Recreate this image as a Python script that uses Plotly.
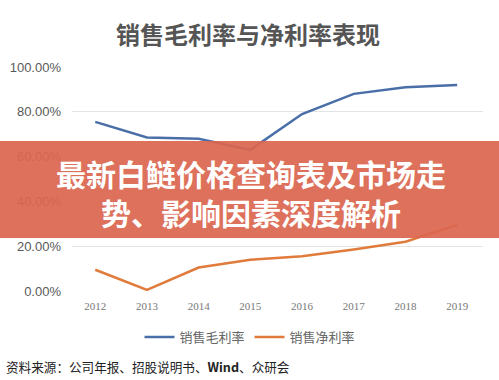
import plotly.graph_objects as go

years = ["2012", "2013", "2014", "2015", "2016", "2017", "2018", "2019"]
gross_margin = [75.5, 68.5, 68.0, 63.0, 79.0, 88.0, 91.0, 92.0]
net_margin = [9.5, 0.5, 10.5, 14.0, 15.5, 18.5, 22.0, 29.5]
y_ticks = [0, 20, 40, 60, 80, 100]
y_tick_text = ["0.00%", "20.00%", "40.00%", "60.00%", "80.00%", "100.00%"]

CJK = "Noto Sans CJK SC"
W, H = 499, 380
ML, MR, MT, MB = 72, 16, 67, 89
PW, PH = W - ML - MR, H - MT - MB

def px(xp):
    return (xp - ML) / PW

def py(yp):
    return (H - MB - yp) / PH

fig = go.Figure()
fig.add_trace(go.Scatter(x=years, y=gross_margin, mode="lines", name="销售毛利率",
                         line=dict(color="#4a6ea8", width=2.5)))
fig.add_trace(go.Scatter(x=years, y=net_margin, mode="lines", name="销售净利率",
                         line=dict(color="#e07b3c", width=2.5)))

fig.update_layout(
    width=W, height=H,
    margin=dict(l=ML, r=MR, t=MT, b=MB, autoexpand=False),
    paper_bgcolor="white", plot_bgcolor="white",
    showlegend=True,
    legend=dict(orientation="h", x=px(250), xanchor="center", y=py(322), yanchor="top",
                font=dict(family=CJK, size=13, color="#666666"),
                itemwidth=30, tracegroupgap=0),
    font=dict(family=CJK),
    xaxis=dict(type="category", range=[-0.45, 7.5], showgrid=False, showline=False,
               zeroline=False, ticks="", ticklabelstandoff=7,
               tickfont=dict(family="Liberation Serif", size=11, color="#777777")),
    yaxis=dict(range=[0, 100], tickvals=y_ticks, ticktext=y_tick_text,
               showgrid=True, gridcolor="#e3e3e3", gridwidth=1, zeroline=False,
               showline=False, ticks="", ticklabelstandoff=10,
               tickfont=dict(family="Liberation Sans", size=13, color="#595959")),
)

fig.add_annotation(text="<b>销售毛利率与净利率表现</b>", xref="paper", yref="paper",
                   x=px(248), y=py(33), xanchor="center", yanchor="middle",
                   showarrow=False, font=dict(family=CJK, size=24, color="#555555"))

fig.add_shape(type="rect", xref="paper", yref="paper", x0=px(-5), x1=px(505),
              y0=py(238), y1=py(141),
              line=dict(width=0), fillcolor="rgba(218,102,80,0.93)", layer="above")

fig.add_annotation(text="<b>最新白鲢价格查询表及市场走</b><br><b>势、影响因素深度解析</b>",
                   xref="paper", yref="paper",
                   x=px(251), y=py(192.5), xanchor="center", yanchor="middle", align="center",
                   showarrow=False, font=dict(family=CJK, size=30, color="white"))

fig.add_annotation(text="资料来源：公司年报、招股说明书、<b>Wind</b>、众研会", xref="paper", yref="paper",
                   x=px(4), y=py(366), xanchor="left", yanchor="middle",
                   showarrow=False, font=dict(family=CJK, size=12.6, color="#222222"))

fig.write_html("out.html", config={"displayModeBar": False},
               post_script="document.body.style.margin='0';document.body.style.overflow='hidden';")
